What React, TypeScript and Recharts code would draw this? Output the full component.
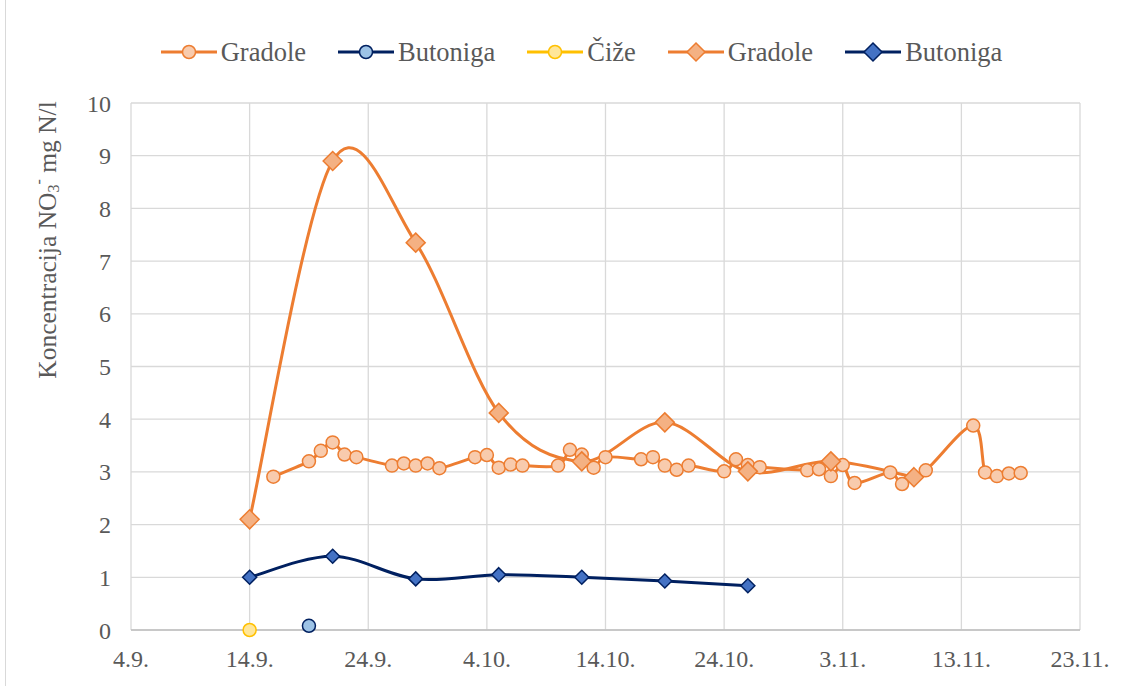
import { LineChart, Line, XAxis, YAxis, CartesianGrid } from "recharts";

// dates are "day.month." within one autumn season
const xTicks = ["4.9.", "14.9.", "24.9.", "4.10.", "14.10.", "24.10.", "3.11.", "13.11.", "23.11."];
const yTicks = [0, 1, 2, 3, 4, 5, 6, 7, 8, 9, 10];

// Gradole – daily samples (circles)
const gradoleDailyDates = [
  "16.9.", "19.9.", "20.9.", "21.9.", "22.9.", "23.9.", "26.9.", "27.9.", "28.9.", "29.9.", "30.9.",
  "3.10.", "4.10.", "5.10.", "6.10.", "7.10.", "10.10.", "11.10.", "12.10.", "13.10.", "14.10.",
  "17.10.", "18.10.", "19.10.", "20.10.", "21.10.", "24.10.", "25.10.", "26.10.", "27.10.", "31.10.",
  "1.11.", "2.11.", "3.11.", "4.11.", "7.11.", "8.11.", "10.11.", "14.11.", "15.11.", "16.11.", "17.11.", "18.11.",
];
const gradoleDailyValues = [
  2.91, 3.2, 3.4, 3.56, 3.33, 3.28, 3.12, 3.16, 3.12, 3.16, 3.07,
  3.28, 3.32, 3.08, 3.14, 3.12, 3.12, 3.42, 3.33, 3.08, 3.28,
  3.24, 3.28, 3.12, 3.04, 3.12, 3.01, 3.24, 3.13, 3.09, 3.03,
  3.05, 2.92, 3.13, 2.79, 2.99, 2.77, 3.03, 3.88, 2.99, 2.92, 2.97, 2.98,
];

// single samples (circles)
const butonigaSingleDates = ["19.9."];
const butonigaSingleValues = [0.08];
const cizeDates = ["14.9."];
const cizeValues = [0];

// weekly samples (diamonds)
const gradoleWeeklyDates = ["14.9.", "21.9.", "28.9.", "5.10.", "12.10.", "19.10.", "26.10.", "2.11.", "9.11."];
const gradoleWeeklyValues = [2.1, 8.9, 7.35, 4.12, 3.2, 3.94, 3.01, 3.2, 2.9];
const butonigaWeeklyDates = ["14.9.", "21.9.", "28.9.", "5.10.", "12.10.", "19.10.", "26.10."];
const butonigaWeeklyValues = [1.0, 1.4, 0.97, 1.05, 1.0, 0.93, 0.84];

const monthOffset: Record<number, number> = { 9: 0, 10: 30, 11: 61 };
function toDay(s: string) {
  const [d, m] = s.split(".").map(Number);
  return monthOffset[m] + d;
}
const toSeries = (dates: string[], values: number[]) =>
  dates.map((d, i) => ({ x: toDay(d), y: values[i] }));

const tickLabel: Record<number, string> = {};
xTicks.forEach((t) => (tickLabel[toDay(t)] = t));

// Excel-like smoothed line (Catmull-Rom through the points)
function excelSmooth(context: any) {
  let pts: [number, number][] = [];
  return {
    areaStart() {},
    areaEnd() {},
    lineStart() {
      pts = [];
    },
    point(x: number, y: number) {
      pts.push([+x, +y]);
    },
    lineEnd() {
      const n = pts.length;
      if (!n) return;
      context.moveTo(pts[0][0], pts[0][1]);
      for (let i = 0; i < n - 1; i++) {
        const p0 = pts[Math.max(i - 1, 0)];
        const p1 = pts[i];
        const p2 = pts[i + 1];
        const p3 = pts[Math.min(i + 2, n - 1)];
        context.bezierCurveTo(
          p1[0] + (p2[0] - p0[0]) / 6,
          p1[1] + (p2[1] - p0[1]) / 6,
          p2[0] - (p3[0] - p1[0]) / 6,
          p2[1] - (p3[1] - p1[1]) / 6,
          p2[0],
          p2[1]
        );
      }
    },
  };
}

const ORANGE = "#ED7D31";
const NAVY = "#002060";
const TEXT = "#595959";
const FONT = '"Liberation Serif", "Times New Roman", serif';

function diamondDot(fill: string, stroke: string, r: number) {
  return (props: any) => {
    const { cx, cy, index } = props;
    if (cx == null || cy == null) return <g key={index} />;
    return (
      <polygon
        key={index}
        points={`${cx},${cy - r} ${cx + r},${cy} ${cx},${cy + r} ${cx - r},${cy}`}
        fill={fill}
        stroke={stroke}
        strokeWidth={1.5}
      />
    );
  };
}

const legendItems = [
  { name: "Gradole", line: ORANGE, fill: "#F8CBAD", stroke: ORANGE, shape: "circle" },
  { name: "Butoniga", line: NAVY, fill: "#9DC3E6", stroke: NAVY, shape: "circle" },
  { name: "Čiže", line: "#FFC000", fill: "#FFE699", stroke: "#FFC000", shape: "circle" },
  { name: "Gradole", line: ORANGE, fill: "#F4B183", stroke: ORANGE, shape: "diamond" },
  { name: "Butoniga", line: NAVY, fill: "#4472C4", stroke: NAVY, shape: "diamond" },
];

function ChartLegend() {
  return (
    <div
      style={{
        position: "absolute",
        top: 37,
        left: 0,
        width: 1131,
        paddingLeft: 32,
        boxSizing: "border-box",
        display: "flex",
        justifyContent: "center",
        gap: 32,
        fontFamily: FONT,
        fontSize: 26.5,
        lineHeight: "30px",
        color: TEXT,
      }}
    >
      {legendItems.map((it, i) => (
        <div key={i} style={{ display: "flex", alignItems: "center", gap: 4 }}>
          <svg width={56} height={22}>
            <line x1={0} y1={11} x2={56} y2={11} stroke={it.line} strokeWidth={3} />
            {it.shape === "circle" ? (
              <circle cx={28} cy={11} r={6.5} fill={it.fill} stroke={it.stroke} strokeWidth={1.5} />
            ) : (
              <polygon points="28,2 37,11 28,20 19,11" fill={it.fill} stroke={it.stroke} strokeWidth={1.5} />
            )}
          </svg>
          <span>{it.name}</span>
        </div>
      ))}
    </div>
  );
}

function AxisTitle() {
  return (
    <text
      x={47}
      y={240}
      transform="rotate(-90 47 240)"
      textAnchor="middle"
      dominantBaseline="central"
      fontFamily={FONT}
      fontSize={25.5}
      fill={TEXT}
    >
      Koncentracija NO
      <tspan fontSize={16} dy={6}>3</tspan>
      <tspan fontSize={16} dy={-15}>-</tspan>
      <tspan dy={9}> mg N/l</tspan>
    </text>
  );
}

export default function App() {
  const tickStyle = { fill: TEXT, fontSize: 24, fontFamily: FONT };
  return (
    <div style={{ position: "relative", width: 1131, height: 686, background: "#fff" }}>
      <style>{`body{margin:0}`}</style>
      <div style={{ position: "absolute", left: 5, top: 0, width: 1, height: 686, background: "#d9d9d9" }} />
      <ChartLegend />
      <LineChart width={1131} height={686} margin={{ top: 103, right: 51, bottom: 16, left: 71 }}>
        <CartesianGrid stroke="#d9d9d9" strokeWidth={1.3} />
        <XAxis
          type="number"
          dataKey="x"
          domain={[toDay(xTicks[0]), toDay(xTicks[xTicks.length - 1])]}
          ticks={xTicks.map(toDay)}
          tickFormatter={(v: number) => tickLabel[v] ?? ""}
          tick={tickStyle}
          tickLine={false}
          tickSize={0}
          tickMargin={20}
          height={40}
          stroke="#bfbfbf"
          strokeWidth={1.5}
          allowDataOverflow
        />
        <YAxis
          type="number"
          domain={[0, 10]}
          ticks={yTicks}
          tick={tickStyle}
          tickLine={false}
          axisLine={false}
          tickSize={0}
          tickMargin={20}
          width={60}
          label={{ content: () => <AxisTitle /> }}
        />
        <Line
          data={toSeries(gradoleDailyDates, gradoleDailyValues)}
          dataKey="y"
          type={excelSmooth as any}
          stroke={ORANGE}
          strokeWidth={3}
          dot={{ r: 6.5, fill: "#F8CBAD", stroke: ORANGE, strokeWidth: 1.5 }}
          activeDot={false}
          isAnimationActive={false}
        />
        <Line
          data={toSeries(butonigaSingleDates, butonigaSingleValues)}
          dataKey="y"
          stroke={NAVY}
          strokeWidth={3}
          dot={{ r: 6.5, fill: "#9DC3E6", stroke: NAVY, strokeWidth: 1.5 }}
          activeDot={false}
          isAnimationActive={false}
        />
        <Line
          data={toSeries(cizeDates, cizeValues)}
          dataKey="y"
          stroke="#FFC000"
          strokeWidth={3}
          dot={{ r: 6.5, fill: "#FFE699", stroke: "#FFC000", strokeWidth: 1.5 }}
          activeDot={false}
          isAnimationActive={false}
        />
        <Line
          data={toSeries(gradoleWeeklyDates, gradoleWeeklyValues)}
          dataKey="y"
          type={excelSmooth as any}
          stroke={ORANGE}
          strokeWidth={3}
          dot={diamondDot("#F4B183", ORANGE, 9.5)}
          activeDot={false}
          isAnimationActive={false}
        />
        <Line
          data={toSeries(butonigaWeeklyDates, butonigaWeeklyValues)}
          dataKey="y"
          type={excelSmooth as any}
          stroke={NAVY}
          strokeWidth={3}
          dot={diamondDot("#4472C4", NAVY, 7)}
          activeDot={false}
          isAnimationActive={false}
        />
      </LineChart>
    </div>
  );
}
